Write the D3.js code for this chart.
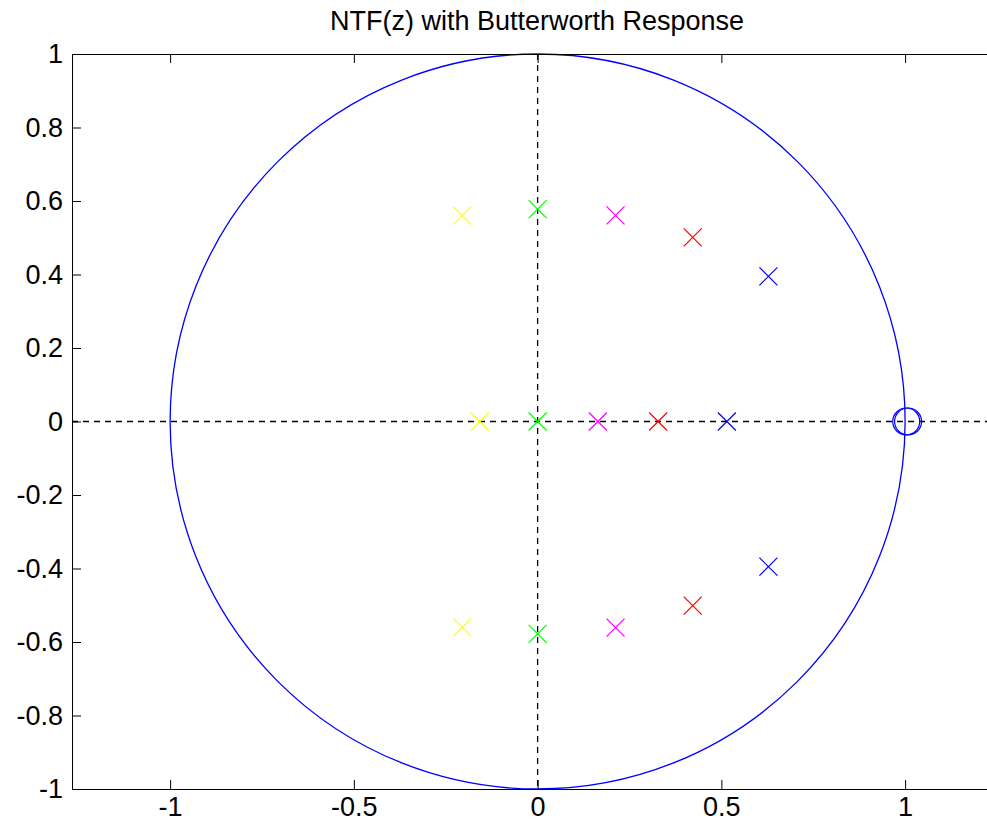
<!DOCTYPE html>
<html>
<head>
<meta charset="utf-8">
<script src="https://cdn.jsdelivr.net/npm/d3@7"></script>
<style>
  body { margin: 0; background: #fff; }
  svg { display: block; }
  text { font-family: "Liberation Sans", Arial, sans-serif; }
</style>
</head>
<body>
<div id="chart"></div>
<script>
// valeurs
const xTicks = [-1, -0.5, 0, 0.5, 1];
const yTicks = [1, 0.8, 0.6, 0.4, 0.2, 0, -0.2, -0.4, -0.6, -0.8, -1];

const poleColors = ["#ffff00", "#00ff00", "#ff00ff", "#ff0000", "#0000ff"];
// une entrée par pôle : indice de couleur, partie réelle, partie imaginaire
const poleGroup = [0, 0, 0, 1, 1, 1, 2, 2, 2, 3, 3, 3, 4, 4, 4];
const poleRe = [-0.205, -0.157, -0.205, 0, 0, 0, 0.212, 0.164, 0.212, 0.422, 0.328, 0.422, 0.628, 0.515, 0.628];
const poleIm = [0.56, 0, -0.56, 0.578, 0, -0.578, 0.561, 0, -0.561, 0.501, 0, -0.501, 0.395, 0, -0.395];

// deux zéros presque confondus en z = 1
const zeroRe = [1.003, 1.008];
const zeroIm = [0, 0];

const titre = "NTF(z) with Butterworth Response";

// Marges et canevas
const W = 987, H = 825;
const margin = { top: 54, left: 72, bottom: 36 };
const plotH = H - margin.top - margin.bottom; // 735
const xLim = [-1.267, 1.267];
const yLim = [-1, 1];

const x = d3.scaleLinear().domain(xLim).range([margin.left, margin.left + plotH * (xLim[1] - xLim[0]) / 2]);
const y = d3.scaleLinear().domain(yLim).range([margin.top + plotH, margin.top]);

const svg = d3.select("#chart").append("svg")
    .attr("width", W)
    .attr("height", H);

const fmt = d => String(d).replace("\u2212", "-");

// lignes pointillées des axes réels / imaginaires
svg.append("line")
    .attr("x1", x(xLim[0])).attr("x2", x(xLim[1]))
    .attr("y1", y(0)).attr("y2", y(0))
    .attr("stroke", "#000").attr("stroke-width", 1.5)
    .attr("stroke-dasharray", "6,5");

svg.append("line")
    .attr("x1", x(0)).attr("x2", x(0))
    .attr("y1", y(1)).attr("y2", y(-1))
    .attr("stroke", "#000").attr("stroke-width", 1.3)
    .attr("stroke-dasharray", "6,5");

// cercle unité
svg.append("circle")
    .attr("cx", x(0)).attr("cy", y(0))
    .attr("r", x(1) - x(0))
    .attr("fill", "none")
    .attr("stroke", "#0000ff")
    .attr("stroke-width", 1.3);

// axes
const axisStyle = g => {
    g.selectAll(".domain").attr("stroke", "#000").attr("stroke-width", 1);
    g.selectAll(".tick line").attr("stroke", "#000");
    g.selectAll(".tick text").attr("fill", "#000").style("font-size", "27px").style("font-family", "Liberation Sans, Arial, sans-serif");
};

svg.append("g")
    .attr("transform", `translate(0,${y(-1)})`)
    .call(d3.axisBottom(x).tickValues(xTicks).tickFormat(fmt).tickSizeInner(-9).tickSizeOuter(0).tickPadding(8))
    .call(axisStyle);

svg.append("g")
    .attr("transform", `translate(0,${y(1)})`)
    .call(d3.axisTop(x).tickValues(xTicks).tickFormat("").tickSizeInner(-9).tickSizeOuter(0))
    .call(axisStyle);

svg.append("g")
    .attr("transform", `translate(${x(xLim[0])},0)`)
    .call(d3.axisLeft(y).tickValues(yTicks).tickFormat(fmt).tickSizeInner(-9).tickSizeOuter(0).tickPadding(9))
    .call(axisStyle);

// pôles (croix)
const s = 9;
const poles = svg.append("g").selectAll("g")
    .data(poleRe.map((re, i) => ({ re: re, im: poleIm[i], c: poleColors[poleGroup[i]] })))
    .join("g")
    .attr("transform", d => `translate(${x(d.re)},${y(d.im)})`);

poles.append("path")
    .attr("d", `M${-s},${-s}L${s},${s}M${-s},${s}L${s},${-s}`)
    .attr("stroke", d => d.c)
    .attr("stroke-width", 1.2)
    .attr("fill", "none");

// zéros (cercles)
svg.append("g").selectAll("circle")
    .data(zeroRe.map((re, i) => ({ re: re, im: zeroIm[i] })))
    .join("circle")
    .attr("cx", d => x(d.re))
    .attr("cy", d => y(d.im))
    .attr("r", 13.5)
    .attr("fill", "none")
    .attr("stroke", "#0000ff")
    .attr("stroke-width", 1.2);

// titre
svg.append("text")
    .attr("x", 537)
    .attr("y", 30)
    .attr("text-anchor", "middle")
    .style("font-size", "27px")
    .attr("fill", "#000")
    .text(titre);
</script>
</body>
</html>
